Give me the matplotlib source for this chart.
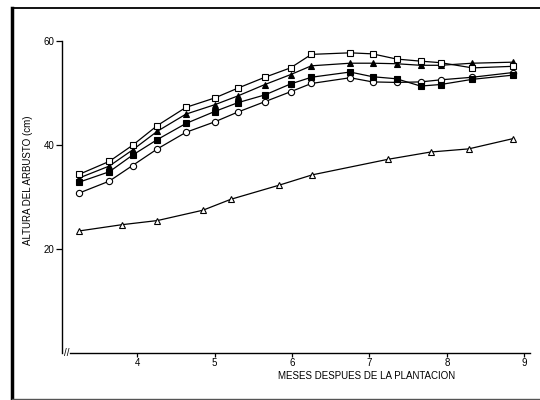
"""
plot.py - shrub height vs. months after planting (scanned-figure recreation).
"""
import matplotlib
matplotlib.use("Agg")
import matplotlib.pyplot as plt
from matplotlib.lines import Line2D

plt.rcParams["font.family"] = ["Liberation Sans", "DejaVu Sans"]

# months after planting for the four upper series
months = [3.25, 3.64, 3.94, 4.26, 4.63, 5.00, 5.30, 5.65, 5.98,
          6.25, 6.75, 7.04, 7.35, 7.66, 7.92, 8.33, 8.85]
open_square = [34.4, 36.9, 40.0, 43.8, 47.3, 49.1, 51.0, 53.1, 54.9,
               57.5, 57.8, 57.6, 56.6, 56.2, 55.9, 54.9, 55.2]
filled_triangle = [33.7, 36.0, 39.1, 42.7, 46.0, 47.8, 49.5, 51.7, 53.6,
                   55.3, 55.8, 55.8, 55.7, 55.4, 55.4, 55.8, 56.0]
filled_square = [32.9, 34.9, 38.1, 41.1, 44.2, 46.5, 48.2, 49.7, 51.8,
                 53.1, 54.1, 53.2, 52.8, 51.4, 51.7, 52.7, 53.5]
open_circle = [30.8, 33.1, 36.1, 39.3, 42.5, 44.5, 46.4, 48.4, 50.3,
               51.9, 53.0, 52.2, 52.1, 52.2, 52.6, 53.1, 54.0]

# lower series sampled on its own dates
months_tri = [3.25, 3.80, 4.26, 4.85, 5.21, 5.83, 6.26, 7.24, 7.79, 8.28, 8.86]
open_triangle = [23.5, 24.7, 25.5, 27.5, 29.6, 32.3, 34.3, 37.3, 38.7, 39.3, 41.3]

xticks = [4, 5, 6, 7, 8, 9]
yticks = [20, 40, 60]

fig = plt.figure(figsize=(5.4, 4.0), dpi=100)
ax = fig.add_axes([0.115, 0.1175, 0.866, 0.779])

style = dict(color="black", lw=0.9, markersize=4.5, markeredgewidth=0.8,
             markeredgecolor="black", clip_on=False)
ax.plot(months_tri, open_triangle, marker="^", markerfacecolor="white", **style)
ax.plot(months, open_circle, marker="o", markerfacecolor="white", **style)
ax.plot(months, filled_square, marker="s", markerfacecolor="black", **style)
ax.plot(months, filled_triangle, marker="^", markerfacecolor="black", **style)
ax.plot(months, open_square, marker="s", markerfacecolor="white", **style)

ax.set_xlim(3.03, 9.07)
ax.set_ylim(0, 60)
ax.set_xticks(xticks)
ax.set_yticks(yticks)
ax.tick_params(axis="y", labelsize=7, length=4, width=0.9,
               direction="out", pad=1.5)
ax.tick_params(axis="x", labelsize=7, length=3, width=0.9,
               direction="out", pad=0.8)
for side in ("top", "right"):
    ax.spines[side].set_visible(False)
for side in ("left", "bottom"):
    ax.spines[side].set_linewidth(1.0)
ax.spines["bottom"].set_bounds(3.13, 9.07)

ax.set_xlabel("MESES DESPUES DE LA PLANTACION", fontsize=7)
ax.xaxis.set_label_coords(0.652, -0.058)
ax.set_ylabel("ALTURA DEL ARBUSTO (cm)", fontsize=7)
ax.yaxis.set_label_coords(-0.062, 0.555)

# axis break mark at the origin
ax.text(0.004, 0.0, "//", transform=ax.transAxes, fontsize=7,
        ha="left", va="center")

# scanned page frame: thick left edge, thin top and bottom rules
fig.add_artist(Line2D([0.022, 0.022], [0.003, 0.98], transform=fig.transFigure,
                      color="black", lw=2.5))
fig.add_artist(Line2D([0.022, 1.0], [0.98, 0.98], transform=fig.transFigure,
                      color="black", lw=1.3))
fig.add_artist(Line2D([0.022, 1.0], [0.003, 0.003], transform=fig.transFigure,
                      color="#555555", lw=1.0))

fig.savefig("out.png", dpi=100)
